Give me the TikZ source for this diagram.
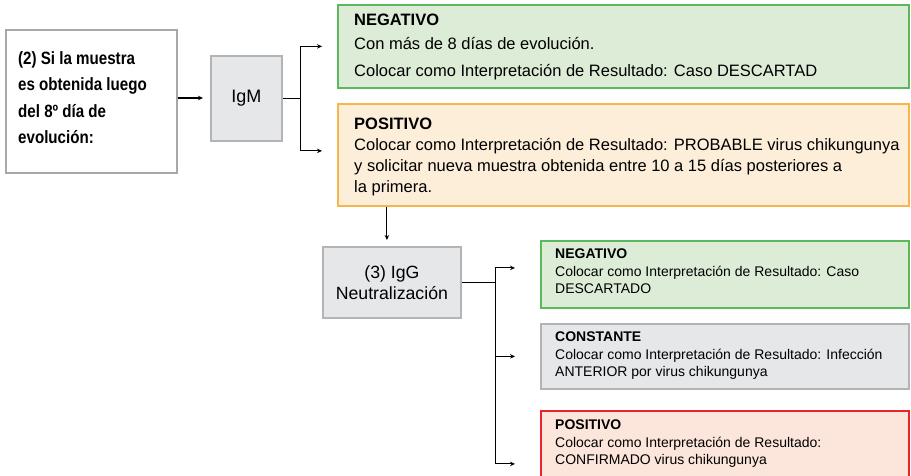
\documentclass[tikz,border=0pt]{standalone}
\usepackage{fontspec}
\setmainfont{Liberation Sans}
\newfontfamily\condfont[FakeStretch=0.85]{Liberation Sans}
\usetikzlibrary{arrows.meta}
\definecolor{gfill}{HTML}{DCECD6}
\definecolor{gline}{HTML}{5CB85C}
\definecolor{ofill}{HTML}{FDEEDA}
\definecolor{oline}{HTML}{F8B54A}
\definecolor{grfill}{HTML}{E6E7E9}
\definecolor{grline}{HTML}{B3B4B6}
\definecolor{rfill}{HTML}{FCE5DA}
\definecolor{rline}{HTML}{E8262A}
\definecolor{wline}{HTML}{A7A8AA}
\begin{document}
\begin{tikzpicture}[x=1pt,y=-1pt,
  box/.style={draw, line width=1.8pt, rectangle, inner sep=0pt, anchor=north west},
  gbox/.style={box, draw=gline, fill=gfill},
  obox/.style={box, draw=oline, fill=ofill},
  grbox/.style={box, draw=grline, fill=grfill},
  rbox/.style={box, draw=rline, fill=rfill},
  wbox/.style={box, draw=wline, fill=white},
  txt/.style={inner sep=0pt, anchor=north west, align=left, text=black},
  bigtxt/.style={txt, font=\fontsize{16.5}{21}\selectfont},
  smtxt/.style={txt, font=\fontsize{14}{17.5}\selectfont},
  arr/.style={line width=1.1pt, -{Stealth[length=5pt,width=4.5pt]}},
  ln/.style={line width=1.1pt}
]
\clip (0,0) rectangle (911,476);
\fill[white] (0,0) rectangle (911,476);

% left box
\node[wbox, minimum width=171, minimum height=143] (start) at (5,29) {};
\node[txt, font=\condfont\bfseries\fontsize{17.8}{26.5}\selectfont] at ([shift={(13,22)}]start.north west)
  {(2) Si la muestra\\es obtenida luego\\del 8º día de\\evolución:};

% IgM
\node[grbox, minimum width=71, minimum height=85, font=\fontsize{18}{22}\selectfont] (igm) at (210,55) {IgM};

% top results
\node[gbox, minimum width=571, minimum height=83] (negtop) at (337,4) {};
\node[bigtxt] at ([shift={(17,10)}]negtop.north west)
  {\textbf{NEGATIVO}\\[3pt]Con más de 8 días de evolución.\\[6pt]Colocar como Interpretación de Resultado: Caso DESCARTAD};

\node[obox, minimum width=571, minimum height=102] (postop) at (337,103) {};
\node[bigtxt] at ([shift={(17,15)}]postop.north west)
  {\textbf{POSITIVO}\\Colocar como Interpretación de Resultado: PROBABLE virus chikungunya\\y solicitar nueva muestra obtenida entre 10 a 15 días posteriores a\\la primera.};

% IgG
\node[grbox, minimum width=138, minimum height=71, align=center, font=\fontsize{17.7}{21}\selectfont] (igg) at (322,246) {(3) IgG\\Neutralización};

% bottom results
\node[gbox, minimum width=368, minimum height=67] (negbot) at (540,240) {};
\node[smtxt] at ([shift={(15,9)}]negbot.north west)
  {\textbf{NEGATIVO}\\Colocar como Interpretación de Resultado: Caso\\DESCARTADO};

\node[grbox, minimum width=368, minimum height=65] (const) at (540,323) {};
\node[smtxt] at ([shift={(15,9)}]const.north west)
  {\textbf{CONSTANTE}\\Colocar como Interpretación de Resultado: Infección\\ANTERIOR por virus chikungunya};

\node[rbox, minimum width=368, minimum height=80] (posbot) at (540,410) {};
\node[smtxt] at ([shift={(15,10)}]posbot.north west)
  {\textbf{POSITIVO}\\Colocar como Interpretación de Resultado:\\CONFIRMADO virus chikungunya};

% connectors
\draw[arr, shorten >=7pt] (start.east |- 0,98) -- (igm.west |- 0,98);
\draw[ln] (igm.east) -- ++(18,0) coordinate (b1);
\draw[arr, shorten >=15pt] (b1) |- (negtop.west);
\draw[arr, shorten >=15pt] (b1) |- ([yshift=4]postop.west);
\draw[arr, shorten >=6pt] ([xshift=-5]postop.south -| igg.north) -- ([xshift=-5]igg.north);
\draw[ln] (igg.east) -- ++(34,0) coordinate (b2);
\draw[arr, shorten >=25pt] (b2) |- ([yshift=6.5]negbot.west);
\draw[arr, shorten >=25pt] (b2) |- (const.west);
\draw[arr, shorten >=25pt] (b2) |- ([yshift=-13]posbot.west);
\end{tikzpicture}
\end{document}
